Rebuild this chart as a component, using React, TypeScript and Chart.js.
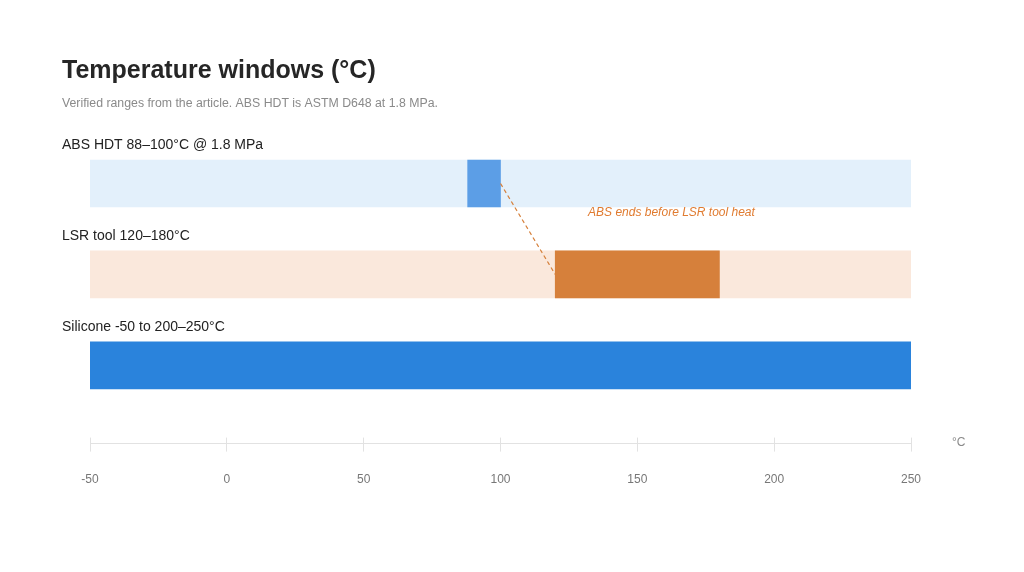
import React, { useEffect, useRef } from "react";
import { Chart, registerables } from "chart.js";

Chart.register(...registerables);

const titleText = "Temperature windows (°C)";
const subtitleText = "Verified ranges from the article. ABS HDT is ASTM D648 at 1.8 MPa.";
const rowLabels = ["ABS HDT 88–100°C @ 1.8 MPa", "LSR tool 120–180°C", "Silicone -50 to 200–250°C"];
const rowIndex = [0, 1, 2];
const rangeStart = [88, 120, -50];
const rangeEnd = [100, 180, 250];
const trackStart = [-50, -50, null];
const trackEnd = [250, 250, null];
const rangeColors = ["#5c9ee6", "#d6803b", "#2a83dc"];
const trackColors = ["#e3f0fb", "#fae8dc", "rgba(0,0,0,0)"];
const axisMin = -50;
const axisMax = 250;
const axisStep = 50;
const unitLabel = "°C";
const annotationText = "ABS ends before LSR tool heat";
const annotationX = 132;
const annotationY = 0.325;

const FONT = "'Liberation Sans', Arial, Helvetica, sans-serif";

const overlayPlugin = {
  id: "overlay",
  afterDraw(chart: any) {
    const { ctx, chartArea } = chart;
    const xs = chart.scales.x;
    const ys = chart.scales.y;
    ctx.save();
    // title
    ctx.textBaseline = "middle";
    ctx.textAlign = "left";
    ctx.fillStyle = "#262626";
    ctx.font = `bold 25px ${FONT}`;
    ctx.fillText(titleText, 62, 71);
    ctx.fillStyle = "#8a8a8a";
    ctx.font = `12.3px ${FONT}`;
    ctx.fillText(subtitleText, 62, 103.5);
    // row labels
    ctx.fillStyle = "#222222";
    ctx.font = `14px ${FONT}`;
    rowIndex.forEach((r, i) => {
      const cy = ys.getPixelForValue(r);
      ctx.fillText(rowLabels[i], 62, cy - 23.5 - 15);
    });
    // upward tick stubs
    ctx.strokeStyle = "#e2e2e2";
    ctx.lineWidth = 1;
    xs.ticks.forEach((t: any) => {
      const px = Math.round(xs.getPixelForValue(t.value) - 0.5) + 0.5;
      ctx.beginPath();
      ctx.moveTo(px, chartArea.bottom - 6);
      ctx.lineTo(px, chartArea.bottom);
      ctx.stroke();
    });
    // unit label
    ctx.fillStyle = "#8a8a8a";
    ctx.font = `12px ${FONT}`;
    ctx.textAlign = "left";
    ctx.fillText(unitLabel, chartArea.right + 41, chartArea.bottom - 1);
    // dashed connector
    ctx.strokeStyle = "#d6803b";
    ctx.lineWidth = 1.2;
    ctx.setLineDash([4, 3]);
    ctx.beginPath();
    ctx.moveTo(xs.getPixelForValue(rangeEnd[0]), ys.getPixelForValue(rowIndex[0]));
    ctx.lineTo(xs.getPixelForValue(rangeStart[1]), ys.getPixelForValue(rowIndex[1]));
    ctx.stroke();
    ctx.setLineDash([]);
    // annotation
    ctx.fillStyle = "#e07b30";
    ctx.font = `italic 12px ${FONT}`;
    ctx.fillText(annotationText, xs.getPixelForValue(annotationX), ys.getPixelForValue(annotationY));
    ctx.restore();
  },
};

export default function App() {
  const ref = useRef<HTMLCanvasElement | null>(null);
  useEffect(() => {
    if (!ref.current) return;
    const chart = new Chart(ref.current, {
      type: "bar",
      data: {
        datasets: [
          {
            data: rowIndex.map((r, i) => ({ x: [rangeStart[i], rangeEnd[i]], y: r })) as any,
            backgroundColor: rangeColors,
            barThickness: 47,
            grouped: false,
            borderWidth: 0,
          },
          {
            data: rowIndex.map((r, i) => ({ x: trackStart[i] === null ? null : [trackStart[i], trackEnd[i]], y: r })) as any,
            backgroundColor: trackColors,
            barThickness: 47,
            grouped: false,
            borderWidth: 0,
          },
        ],
      },
      options: {
        indexAxis: "y",
        animation: false,
        responsive: false,
        maintainAspectRatio: false,
        layout: { padding: { left: 90, right: 113, top: 138, bottom: 64 } },
        plugins: { legend: { display: false }, tooltip: { enabled: false }, title: { display: false } },
        scales: {
          x: {
            type: "linear",
            min: axisMin,
            max: axisMax,
            offset: false,
            ticks: { stepSize: axisStep, color: "#777777", font: { size: 12, family: FONT }, padding: 21 },
            grid: { drawOnChartArea: false, tickLength: 8, color: "#e2e2e2", offset: false },
            border: { display: true, color: "#e2e2e2" },
          },
          y: {
            type: "linear",
            reverse: true,
            min: -0.5,
            max: 2.86,
            offset: false,
            grid: { offset: false },
            display: false,
          },
        },
      } as any,
      plugins: [overlayPlugin],
    });
    return () => chart.destroy();
  }, []);
  return (
    <div style={{ position: "fixed", left: 0, top: 0, width: 1024, height: 572, background: "#fff" }}>
      <canvas ref={ref} width={1024} height={572} style={{ width: 1024, height: 572 }} />
    </div>
  );
}
